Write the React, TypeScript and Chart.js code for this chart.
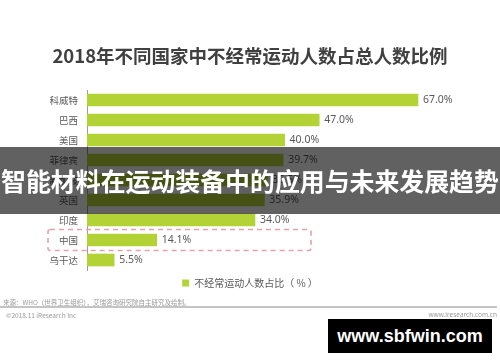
import React, { useEffect, useRef } from "react";
import { Chart, registerables } from "chart.js";

Chart.register(...registerables);

const titleText = "2018年不同国家中不经常运动人数占总人数比例";
const seriesName = "不经常运动人数占比（ % ）";
const categories = ["科威特", "巴西", "美国", "菲律宾", "新加坡", "英国", "印度", "中国", "乌干达"];
const values = [67.0, 47.0, 40.0, 39.7, 36.5, 35.9, 34.0, 14.1, 5.5];
const highlightCategory = "中国";
const bannerText = "智能材料在运动装备中的应用与未来发展趋势";
const sourceText = "来源：WHO（世界卫生组织），艾瑞咨询研究院自主研究及绘制。";
const copyrightText = "©2018.11 iResearch Inc";
const siteText = "www.iresearch.com.cn";
const watermarkText = "www.sbfwin.com";

const CJK = "'Noto Sans CJK SC', 'Noto Sans', sans-serif";
const LATIN = "'Noto Sans', 'Noto Sans CJK SC', sans-serif";

const extrasPlugin = {
  id: "extras",
  afterDatasetsDraw(chart: any) {
    const { ctx } = chart;
    const meta = chart.getDatasetMeta(0);
    const data = chart.data.datasets[0].data as number[];
    ctx.save();
    ctx.font = `10.5px ${LATIN}`;
    ctx.fillStyle = "#595959";
    ctx.textAlign = "left";
    ctx.textBaseline = "middle";
    meta.data.forEach((bar: any, i: number) => {
      ctx.fillText(`${data[i].toFixed(1)}%`, bar.x + 5, bar.y + 0.5);
    });
    const hi = categories.indexOf(highlightCategory);
    if (hi >= 0) {
      const y = chart.scales.y.getPixelForValue(hi);
      const left = chart.chartArea.left - 39;
      const right = chart.chartArea.left + 224;
      ctx.strokeStyle = "#e2a4ab";
      ctx.lineWidth = 1.6;
      ctx.setLineDash([5, 4]);
      ctx.beginPath();
      ctx.roundRect(left, y - 10.5, right - left, 21, 2);
      ctx.stroke();
    }
    ctx.restore();
  },
};

export default function App() {
  const ref = useRef<HTMLCanvasElement | null>(null);
  useEffect(() => {
    if (!ref.current) return;
    const chart = new Chart(ref.current, {
      type: "bar",
      data: {
        labels: categories,
        datasets: [
          {
            label: seriesName,
            data: values,
            backgroundColor: "#b3d235",
            borderWidth: 0,
            barThickness: 12,
          },
        ],
      },
      options: {
        indexAxis: "y",
        animation: false,
        responsive: false,
        devicePixelRatio: 1,
        layout: { padding: { left: 0, right: 0, top: 0, bottom: 64 } },
        scales: {
          x: { display: false, min: 0, max: 83.6 },
          y: {
            grid: { display: false, drawTicks: false },
            border: { display: true, color: "#9a9a9a", width: 1 },
            ticks: { color: "#595959", font: { size: 9.5, family: CJK }, padding: 9 },
            afterFit: (s: any) => {
              s.width = 87;
            },
          },
        },
        plugins: {
          title: {
            display: true,
            text: titleText,
            color: "#404040",
            font: { size: 18.5, weight: "bold", family: CJK },
            padding: { top: 45, bottom: 22.8 },
          },
          legend: {
            display: true,
            position: "bottom",
            labels: {
              boxWidth: 7,
              boxHeight: 7,
              padding: 8,
              color: "#595959",
              font: { size: 10, family: CJK },
            },
          },
          tooltip: { enabled: false },
        },
      },
      plugins: [extrasPlugin],
    } as any);
    return () => chart.destroy();
  }, []);

  const small: React.CSSProperties = {
    position: "absolute",
    fontFamily: CJK,
    fontSize: 6.5,
    color: "#9a9a9a",
    lineHeight: "8px",
    whiteSpace: "nowrap",
  };

  return (
    <div style={{ position: "fixed", left: 0, top: 0, width: 500, height: 362, background: "#fff", overflow: "hidden" }}>
      <canvas ref={ref} width={500} height={362} style={{ position: "absolute", left: 0, top: 0 }} />
      <div style={{ ...small, left: 3, top: 298 }}>{sourceText}</div>
      <div style={{ position: "absolute", left: 0, top: 306, width: 497, height: 1.5, background: "#c4c4c4" }} />
      <div style={{ ...small, left: 6, top: 311 }}>{copyrightText}</div>
      <div style={{ ...small, right: 3, top: 311, fontFamily: LATIN }}>{siteText}</div>
      <div
        style={{
          position: "absolute",
          left: 0,
          top: 147,
          width: 500,
          height: 67,
          background: "rgba(0,0,0,0.62)",
          color: "#fff",
          fontFamily: CJK,
          fontWeight: "bold",
          fontSize: 24.9,
          lineHeight: "67px",
          textAlign: "center",
          whiteSpace: "nowrap",
          letterSpacing: 0,
        }}
      >
        {bannerText}
      </div>
      <div
        style={{
          position: "absolute",
          left: 328,
          top: 319,
          width: 164,
          height: 34,
          background: "#000",
          color: "#fff",
          fontFamily: "'Liberation Sans', Arial, sans-serif",
          fontWeight: "bold",
          fontSize: 18,
          lineHeight: "34px",
          textAlign: "center",
          whiteSpace: "nowrap",
        }}
      >
        {watermarkText}
      </div>
    </div>
  );
}
